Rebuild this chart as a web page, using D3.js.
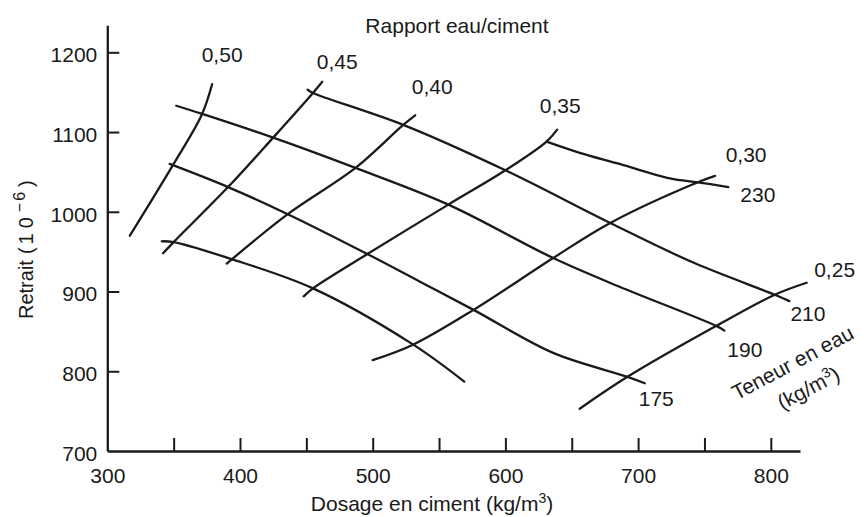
<!DOCTYPE html>
<html>
<head>
<meta charset="utf-8">
<script src="https://cdn.jsdelivr.net/npm/d3@7"></script>
<style>
  html, body { margin: 0; padding: 0; background: #fff; }
  svg { display: block; }
  text { font-family: "Liberation Sans", Arial, Helvetica, sans-serif; fill: #1a1a1a; }
</style>
</head>
<body>
<script>
// Axis ticks
const xTicks = [300, 350, 400, 450, 500, 550, 600, 650, 700, 750, 800];
const yTicks = [700, 800, 900, 1000, 1100, 1200];

// Water/cement ratio curves: [cement dosage kg/m3, shrinkage 1e-6]
const ratioLabels = ["0,50", "0,45", "0,40", "0,35", "0,30", "0,25"];
const ratio050 = [[317, 970], [350, 1060], [371, 1121], [379, 1160]];
const ratio045 = [[342, 948], [350, 962], [391, 1031], [425, 1093], [455, 1149], [462, 1163]];
const ratio040 = [[390, 935], [436, 997], [487, 1055], [523, 1109], [532, 1121]];
const ratio035 = [[448, 894], [455, 904], [496, 947], [557, 1009], [600, 1052], [631, 1088], [639, 1103]];
const ratio030 = [[500, 814], [530, 833], [576, 877], [636, 942], [679, 986], [745, 1037], [758, 1045]];
const ratio025 = [[656, 753], [692, 793], [759, 857], [803, 896], [827, 911]];

// Water content curves (kg/m3)
const waterLabels = ["230", "210", "190", "175", ""];
const water230 = [[631, 1088], [656, 1074], [686, 1060], [724, 1042], [745, 1037], [768, 1031]];
const water210 = [[451, 1153], [455, 1149], [523, 1109], [600, 1052], [679, 986], [742, 936], [803, 896], [814, 888]];
const water190 = [[352, 1133], [371, 1123], [425, 1093], [487, 1055], [557, 1009], [636, 942], [686, 906], [760, 856], [765, 851]];
const water175 = [[347, 1060], [391, 1031], [436, 997], [496, 947], [536, 912], [576, 877], [636, 823], [692, 793], [705, 785]];
const waterLow = [[341, 963], [350, 962], [393, 941], [455, 904], [530, 834], [569, 787]];

const ratioCurves = [ratio050, ratio045, ratio040, ratio035, ratio030, ratio025];
const waterCurves = [water230, water210, water190, water175, waterLow];

// Label offsets (px) from the end of each curve
const ratioLabelOffset = [[10, -22], [15, -13], [17, -21], [3, -17], [31, -14], [28, -6]];
const waterLabelOffset = [[12, 15], [1, 20], [3, 26], [-6, 23], [0, 0]];

const W = 864, H = 517;
const ink = "#1a1a1a";
const fontSize = 21;

const svg = d3.select("body").append("svg").attr("width", W).attr("height", H);

const x = d3.scaleLinear().domain([300, 822]).range([107.3, 800]);
const y = d3.scaleLinear().domain([700, 1234]).range([451, 25.2]);

// X axis with inward ticks, labels on hundreds
const gx = svg.append("g")
  .attr("transform", `translate(0,${y(700)})`)
  .call(d3.axisBottom(x)
    .tickValues(xTicks)
    .tickSize(-13)
    .tickSizeOuter(0)
    .tickPadding(17)
    .tickFormat(d => d % 100 === 0 ? String(d) : ""));
gx.selectAll(".tick").filter(d => d === 300).select("line").remove();

// Y axis with inward ticks
const gy = svg.append("g")
  .attr("transform", `translate(${x(300)},0)`)
  .call(d3.axisLeft(y)
    .tickValues(yTicks)
    .tickSize(-12)
    .tickSizeOuter(0)
    .tickPadding(10)
    .tickFormat(d => String(d)));
gy.selectAll(".tick").filter(d => d === 700).select("line").remove();
gy.selectAll(".tick text").attr("dy", "0.45em");

[gx, gy].forEach(g => {
  g.attr("font-size", fontSize).attr("font-family", null);
  g.select(".domain").attr("stroke", ink).attr("stroke-width", 2.3);
  g.selectAll(".tick line").attr("stroke", ink).attr("stroke-width", 2);
  g.selectAll(".tick text").attr("fill", ink);
});

// Curves
const line = d3.line()
  .x(d => x(d[0]))
  .y(d => y(d[1]))
  .curve(d3.curveCatmullRom.alpha(0.5));

const curveG = svg.append("g")
  .attr("fill", "none")
  .attr("stroke", ink)
  .attr("stroke-width", 2.3)
  .attr("stroke-linecap", "round")
  .attr("stroke-linejoin", "round");

curveG.selectAll("path.water").data(waterCurves).join("path")
  .attr("class", "water").attr("d", line);
curveG.selectAll("path.ratio").data(ratioCurves).join("path")
  .attr("class", "ratio").attr("d", line);

// Ratio labels above the upper ends
svg.append("g").selectAll("text").data(ratioCurves).join("text")
  .attr("x", (d, i) => x(d[d.length - 1][0]) + ratioLabelOffset[i][0])
  .attr("y", (d, i) => y(d[d.length - 1][1]) + ratioLabelOffset[i][1])
  .attr("text-anchor", "middle")
  .attr("font-size", fontSize)
  .text((d, i) => ratioLabels[i]);

// Water content labels after the right ends
svg.append("g").selectAll("text").data(waterCurves).join("text")
  .attr("x", (d, i) => x(d[d.length - 1][0]) + waterLabelOffset[i][0])
  .attr("y", (d, i) => y(d[d.length - 1][1]) + waterLabelOffset[i][1])
  .attr("text-anchor", "start")
  .attr("font-size", fontSize)
  .text((d, i) => waterLabels[i]);

// Titles
svg.append("text")
  .attr("x", 457).attr("y", 33)
  .attr("text-anchor", "middle")
  .attr("font-size", fontSize)
  .text("Rapport eau/ciment");

const xt = svg.append("text")
  .attr("x", 432).attr("y", 511)
  .attr("text-anchor", "middle")
  .attr("font-size", fontSize);
xt.append("tspan").text("Dosage en ciment (kg/m");
xt.append("tspan").attr("font-size", 14).attr("dy", -8).text("3");
xt.append("tspan").attr("dy", 8).text(")");

const yt = svg.append("text")
  .attr("transform", "translate(33,319) rotate(-90)")
  .attr("text-anchor", "start")
  .attr("font-size", 20);
yt.append("tspan").text("Retrait");
yt.append("tspan").attr("dx", 6).text("(");
yt.append("tspan").attr("dx", 3).attr("letter-spacing", 5).text("10");
yt.append("tspan").attr("font-size", 16).attr("dy", -8).attr("letter-spacing", 2).text("−6");
yt.append("tspan").attr("dy", 8).attr("dx", 3).text(")");

const wt = svg.append("g").attr("transform", "translate(796,369) rotate(-28)");
wt.append("text")
  .attr("text-anchor", "middle")
  .attr("font-size", fontSize)
  .text("Teneur en eau");
const wt2 = wt.append("text")
  .attr("x", 2).attr("y", 30)
  .attr("text-anchor", "middle")
  .attr("font-size", fontSize);
wt2.append("tspan").text("(kg/m");
wt2.append("tspan").attr("font-size", 14).attr("dy", -8).text("3");
wt2.append("tspan").attr("dy", 8).text(")");
</script>
</body>
</html>
